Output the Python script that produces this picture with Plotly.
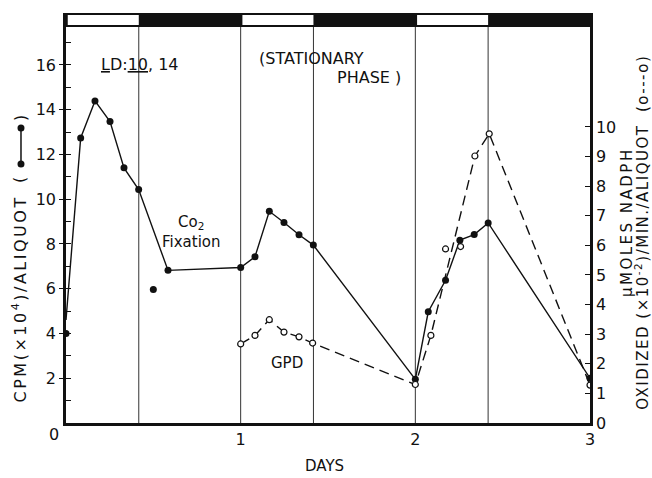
import plotly.graph_objects as go

# ---------------- data ----------------
# CO2 fixation, CPM (x10^4) / aliquot  (left axis, filled circles)
co2_days = [0.0, 0.084, 0.166, 0.252, 0.332, 0.416, 0.5, 0.584, 1.0, 1.082, 1.164,
            1.248, 1.334, 1.416, 2.0, 2.074, 2.173, 2.255, 2.337, 2.417, 3.0]
co2_vals = [4.0, 12.74, 14.39, 13.47, 11.40, 10.43, 5.97, 6.82, 6.95, 7.43, 9.46,
            8.96, 8.41, 7.95, 1.95, 4.97, 6.38, 8.17, 8.42, 8.94, 2.0]
# solid connecting curve drawn in the figure
co2_line_days = [0.0, 0.084, 0.166, 0.252, 0.332, 0.416, 0.584, 1.0, 1.082, 1.164,
                 1.248, 1.334, 1.416, 2.0, 2.074, 2.173, 2.255, 2.337, 2.417, 3.0]
co2_line_vals = [4.6, 12.74, 14.39, 13.47, 11.40, 10.43, 6.82, 6.95, 7.43, 9.46,
                 8.96, 8.41, 7.95, 1.95, 4.97, 6.38, 8.17, 8.42, 8.94, 2.0]

# GPD, umoles NADPH oxidized (x10^-2)/min/aliquot (right axis, open circles)
gpd_days = [1.0, 1.082, 1.164, 1.248, 1.334, 1.412, 2.0, 2.089, 2.173, 2.259, 2.341, 2.423, 3.0]
gpd_vals = [2.67, 2.96, 3.49, 3.07, 2.91, 2.70, 1.30, 2.96, 5.88, 5.96, 9.02, 9.77, 1.28]
# dashed connecting curve drawn in the figure
gpd_line_days = [1.0, 1.082, 1.164, 1.248, 1.334, 1.412, 2.0, 2.089, 2.341, 2.423, 3.0]
gpd_line_vals = [2.67, 2.96, 3.49, 3.07, 2.91, 2.70, 1.30, 2.96, 9.02, 9.77, 1.28]

# light / dark schedule LD 10:14
n_days = 3
light_fraction = 10 / 24

x_ticks = [1, 2, 3]
left_ticks = [2, 4, 6, 8, 10, 12, 14, 16]
right_ticks = list(range(0, 11))

FONT = "DejaVu Sans"
INK = "#111111"

fig = go.Figure()

fig.add_trace(go.Scatter(x=co2_line_days, y=co2_line_vals, mode="lines",
                         line=dict(color=INK, width=1.4), hoverinfo="skip",
                         showlegend=False))
fig.add_trace(go.Scatter(x=co2_days, y=co2_vals, mode="markers",
                         marker=dict(color=INK, size=7), showlegend=False))
fig.add_trace(go.Scatter(x=gpd_line_days, y=gpd_line_vals, mode="lines", yaxis="y2",
                         line=dict(color=INK, width=1.4, dash="10px,6px"),
                         hoverinfo="skip", showlegend=False))
fig.add_trace(go.Scatter(x=gpd_days, y=gpd_vals, mode="markers", yaxis="y2",
                         marker=dict(color="white", size=6,
                                     line=dict(color=INK, width=1.2)),
                         showlegend=False))

shapes = []
# black light/dark bar on top
shapes.append(dict(type="rect", xref="x", yref="paper", x0=0, x1=n_days,
                   y0=0.9659, y1=1.0, fillcolor=INK, line=dict(width=0), layer="above"))
for d in range(n_days):
    shapes.append(dict(type="rect", xref="x", yref="paper", x0=d + 0.01,
                       x1=d + light_fraction, y0=0.9707, y1=0.9951,
                       fillcolor="white", line=dict(width=0), layer="above"))
    # vertical boundary lines
    for xv in (d, d + light_fraction):
        if xv == 0:
            continue
        shapes.append(dict(type="line", xref="x", yref="paper", x0=xv, x1=xv,
                           y0=0, y1=0.9659, line=dict(color="#333333", width=1),
                           layer="below"))

# legend key (filled dot - line - filled dot) next to the left axis title
KX = -0.0859
K_TOP, K_BOT = 0.7195, 0.6317
RX, RY = 3.5 / 524, 3.5 / 410
shapes.append(dict(type="line", xref="paper", yref="paper", x0=KX, x1=KX,
                   y0=K_BOT, y1=K_TOP, line=dict(color=INK, width=1.5)))
for ky in (K_TOP, K_BOT):
    shapes.append(dict(type="circle", xref="paper", yref="paper",
                       x0=KX - RX, x1=KX + RX, y0=ky - RY, y1=ky + RY,
                       fillcolor=INK, line=dict(color=INK, width=0)))

rot = dict(xref="paper", yref="paper", textangle=-90, xanchor="center",
           yanchor="middle", showarrow=False)

annotations = [
    dict(text="<u>L</u>D:<u>10</u>, 14", x=0.424, y=16.0, xref="x", yref="y",
         showarrow=False, font=dict(size=16)),
    dict(text="(STATIONARY", x=1.408, y=16.3, xref="x", yref="y",
         showarrow=False, font=dict(size=16)),
    dict(text="PHASE )", x=1.734, y=15.45, xref="x", yref="y",
         showarrow=False, font=dict(size=16)),
    dict(text="Co<sub>2</sub>", x=0.716, y=8.97, xref="x", yref="y",
         showarrow=False, font=dict(size=15)),
    dict(text="Fixation", x=0.72, y=8.08, xref="x", yref="y",
         showarrow=False, font=dict(size=15)),
    dict(text="GPD", x=1.268, y=2.69, xref="x", yref="y",
         showarrow=False, font=dict(size=15)),
    dict(text="0", x=0, y=0, xref="x", yref="y", xshift=-12, yshift=-11,
         showarrow=False, font=dict(size=16)),
    dict(text="DAYS", x=0.494, y=-0.105, xref="paper", yref="paper",
         xanchor="center", yanchor="middle",
         showarrow=False, font=dict(size=15)),
    dict(text='<span style="letter-spacing:2.5px">CPM(×10<sup>4</sup>)/ALIQUOT</span>',
         x=-0.0878, y=0.3037, font=dict(size=16), **rot),
    dict(text="(", x=-0.0878, y=0.5927, font=dict(size=16), **rot),
    dict(text=")", x=-0.0878, y=0.7439, font=dict(size=16), **rot),
    dict(text='<span style="letter-spacing:2.5px">μMOLES NADPH</span>',
         x=1.0706, y=0.49, font=dict(size=15), **rot),
    dict(text='<span style="letter-spacing:1.5px">OXIDIZED (×10<sup>-2</sup>)/MIN./ALIQUOT  (o---o)</span>',
         x=1.099, y=0.466, font=dict(size=15), **rot),
]

fig.update_layout(
    width=652, height=478,
    margin=dict(l=66, r=62, t=13, b=55),
    paper_bgcolor="white", plot_bgcolor="white",
    font=dict(family=FONT, color=INK, size=16),
    shapes=shapes, annotations=annotations,
    xaxis=dict(range=[0, n_days], tickvals=x_ticks, ticktext=[str(t) for t in x_ticks],
               showgrid=False, zeroline=False, showline=True, linewidth=2.5,
               linecolor=INK, ticks="", tickfont=dict(size=16)),
    yaxis=dict(range=[0, 18.32], tickvals=left_ticks, showgrid=False, zeroline=False,
               showline=True, linewidth=2.5, linecolor=INK, ticks="outside",
               ticklen=4, tickwidth=1.2, tickcolor=INK, tickfont=dict(size=16),
               minor=dict(dtick=1, tick0=1, ticks="inside", ticklen=5,
                          tickwidth=1, tickcolor=INK, showgrid=False)),
    yaxis2=dict(range=[0, 13.85], overlaying="y", side="right", tickvals=right_ticks,
                showgrid=False, zeroline=False, showline=True, linewidth=2.5,
                linecolor=INK, ticks="inside", ticklen=5, tickwidth=1.2,
                tickcolor=INK, tickfont=dict(size=16)),
)

fig.write_html("out.html")
